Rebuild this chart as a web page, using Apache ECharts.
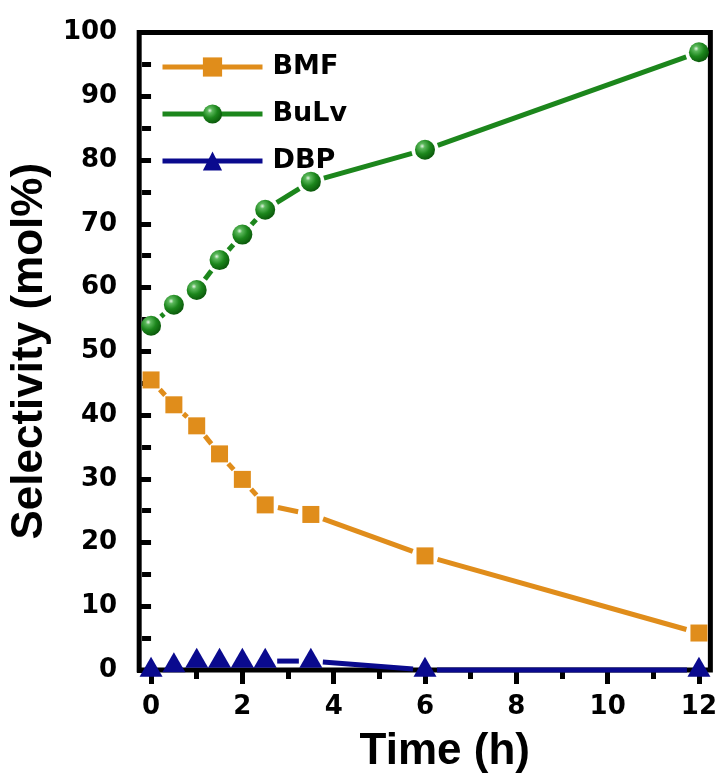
<!DOCTYPE html>
<html>
<head>
<meta charset="utf-8">
<script src="https://cdn.jsdelivr.net/npm/echarts@6/dist/echarts.min.js"></script>
<style>
  html, body { margin: 0; padding: 0; background: #fff; }
  #chart { width: 720px; height: 779px; }
</style>
</head>
<body>
<div id="chart"></div>
<script>
// Reaction time (h) and product selectivity (mol%)
const timeH = [0, 0.5, 1, 1.5, 2, 2.5, 3.5, 6, 12];
const bmf   = [45.5, 41.6, 38.3, 33.9, 29.9, 25.9, 24.4, 17.9, 5.8];
const bulv  = [54.0, 57.3, 59.6, 64.3, 68.3, 72.2, 76.6, 81.6, 96.9];
const dbp   = [0, 0.7, 1.4, 1.4, 1.4, 1.4, 1.4, 0, 0];

const seriesNames = ['BMF', 'BuLv', 'DBP'];
const xMajorTicks = [0, 2, 4, 6, 8, 10, 12];
const xMinorTicks = [1, 3, 5, 7, 9, 11];

const ORANGE = '#E08D1B';
const GREEN = '#1C861C';
const NAVY = '#0A0A8E';
const seriesColors = [ORANGE, GREEN, NAVY];

const tickFont = { fontFamily: 'DejaVu Sans', fontWeight: 'bold', fontSize: 26, color: '#000' };
const nameFont = { fontFamily: 'Liberation Sans, Arial, sans-serif', fontWeight: 'bold', fontSize: 44, color: '#000' };

const sphere = {
  type: 'radial', x: 0.36, y: 0.32, r: 0.72,
  colorStops: [
    { offset: 0, color: '#e6f6e6' },
    { offset: 0.18, color: '#5cb85c' },
    { offset: 0.55, color: '#1c861c' },
    { offset: 1, color: '#0a560a' }
  ]
};

function pairs(ys) {
  return timeH.map((t, i) => [t, ys[i]]);
}

// Connecting lines that stop short of each symbol, leaving a small gap around it
function segmentSeries(name, ys, color, gap) {
  const data = [];
  for (let i = 0; i < timeH.length - 1; i++) {
    data.push([timeH[i], ys[i], timeH[i + 1], ys[i + 1]]);
  }
  return {
    type: 'custom',
    name: name,
    silent: true,
    z: 1,
    data: data,
    encode: { x: [0, 2], y: [1, 3] },
    renderItem(params, api) {
      const a = api.coord([api.value(0), api.value(1)]);
      const b = api.coord([api.value(2), api.value(3)]);
      const dx = b[0] - a[0], dy = b[1] - a[1];
      const len = Math.hypot(dx, dy);
      if (len <= 2 * gap + 1) return null;
      const ux = dx / len, uy = dy / len;
      return {
        type: 'line',
        shape: { x1: a[0] + ux * gap, y1: a[1] + uy * gap, x2: b[0] - ux * gap, y2: b[1] - uy * gap },
        style: { stroke: color, lineWidth: 5, lineCap: 'butt' }
      };
    }
  };
}

function markSeries(name, ys, color, symbol, size, fill, offset) {
  return {
    type: 'line',
    name: name,
    data: pairs(ys),
    symbol: symbol,
    symbolSize: size,
    symbolOffset: offset || [0, 0],
    showAllSymbol: true,
    clip: false,
    z: 3,
    itemStyle: { color: fill || color },
    lineStyle: { color: color, width: 5, opacity: 0 },
    emphasis: { disabled: true }
  };
}

const chart = echarts.init(document.getElementById('chart'), null, { renderer: 'canvas' });

chart.setOption({
  animation: false,
  backgroundColor: '#fff',
  grid: {
    left: 137, right: 8.5, top: 32.5, bottom: 108.5,
    show: true, borderColor: '#000', borderWidth: 5, backgroundColor: 'transparent'
  },
  legend: {
    orient: 'vertical',
    left: 160, top: 53, padding: 0,
    itemWidth: 100, itemHeight: 24, itemGap: 19,
    selectedMode: false,
    textStyle: Object.assign({}, tickFont, { fontSize: 27, lineHeight: 28, padding: [0, 0, 0, 5] }),
    data: seriesNames.map((n, i) => ({
      name: n,
      lineStyle: { opacity: 1, width: 5, color: seriesColors[i], type: 'solid' }
    }))
  },
  xAxis: [
    {
      type: 'value', min: -0.26, max: 12.25,
      name: 'Time (h)', nameLocation: 'middle', nameGap: 60,
      nameTextStyle: Object.assign({}, nameFont, { padding: [0, 0, 0, 40] }),
      axisLine: { show: false },
      splitLine: { show: false },
      axisTick: { show: true, inside: false, length: 14, customValues: xMajorTicks,
        lineStyle: { color: '#000', width: 5 } },
      axisLabel: Object.assign({ show: true, margin: 24, customValues: xMajorTicks }, tickFont)
    },
    {
      type: 'value', min: -0.26, max: 12.25, position: 'bottom',
      axisLine: { show: false },
      splitLine: { show: false },
      axisTick: { show: true, inside: false, length: 9, customValues: xMinorTicks,
        lineStyle: { color: '#000', width: 5 } },
      axisLabel: { show: false }
    }
  ],
  yAxis: {
    type: 'value', min: 0, max: 100, interval: 10,
    name: 'Selectivity (mol%)', nameLocation: 'middle', nameRotate: 90, nameGap: 80,
    nameTextStyle: nameFont,
    axisLine: { show: false },
    splitLine: { show: false },
    axisTick: { show: true, inside: false, length: 14, lineStyle: { color: '#000', width: 5 } },
    minorTick: { show: true, splitNumber: 2, length: 9, lineStyle: { color: '#000', width: 5 } },
    axisLabel: Object.assign({ margin: 22 }, tickFont)
  },
  series: [
    segmentSeries('BMF line', bmf, ORANGE, 13),
    segmentSeries('BuLv line', bulv, GREEN, 13.5),
    segmentSeries('DBP line', dbp, NAVY, 12),
    markSeries('BMF', bmf, ORANGE, 'rect', 17),
    markSeries('BuLv', bulv, GREEN, 'circle', 20, sphere),
    markSeries('DBP', dbp, NAVY, 'triangle', [23, 20], null, [0, -3.3])
  ]
});
</script>
</body>
</html>
